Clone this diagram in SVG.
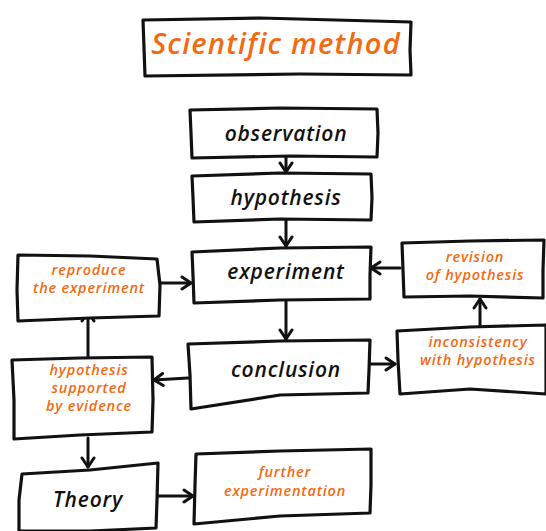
<svg xmlns="http://www.w3.org/2000/svg" width="546" height="531" viewBox="0 0 546 531">
<defs>
<style>
.box{fill:#fff;stroke:#111;stroke-width:3.2;stroke-linejoin:round;stroke-linecap:round}
.ln{fill:none;stroke:#111;stroke-width:3;stroke-linecap:round}
.bk{font-family:"Open Sans","Lato",sans-serif;font-style:italic;font-weight:600;fill:#111;text-anchor:middle;font-variant-ligatures:none;font-size:21px;letter-spacing:0.8px}
.or{font-family:"Open Sans","Lato",sans-serif;font-style:italic;font-weight:600;fill:#f26a12;text-anchor:middle;font-variant-ligatures:none;font-size:14.5px;letter-spacing:0.8px}
</style>
<marker id="ah" markerUnits="userSpaceOnUse" markerWidth="16" markerHeight="16" viewBox="0 0 16 16" refX="12" refY="8" orient="auto">
<path d="M3,2 L12,8 L3,14" fill="none" stroke="#111" stroke-width="3" stroke-linecap="round" stroke-linejoin="round"/>
</marker>
</defs>
<rect width="546" height="531" fill="#fff"/>
<g id="title">
<path class="box" d="M143,20 L260,18 L411,22 L410,50 L411,75 L300,74 L145,76 L144,48 Z"/>
<text class="or" x="276" y="54" style="font-size:29px;letter-spacing:1.2px">Scientific method</text>
</g>
<g id="connectors">
<path class="ln" d="M286,157 L286,172" marker-end="url(#ah)"/>
<path class="ln" d="M286,220 L286,246" marker-end="url(#ah)"/>
<path class="ln" d="M286,301 L286,339" marker-end="url(#ah)"/>
<path class="ln" d="M160,283 L191,283" marker-end="url(#ah)"/>
<path class="ln" d="M400,268 L371,268" marker-end="url(#ah)"/>
<path class="ln" d="M370,364 L395,364" marker-end="url(#ah)"/>
<path class="ln" d="M480,325 L480,299" marker-end="url(#ah)"/>
<path class="ln" d="M188,378 L154,380" marker-end="url(#ah)"/>
<path class="ln" d="M88,357 L88,312" marker-end="url(#ah)"/>
<path class="ln" d="M88,438 L88,467" marker-end="url(#ah)"/>
<path class="ln" d="M158,496 L193,496" marker-end="url(#ah)"/>
</g>
<g id="observation">
<path class="box" d="M190,110 L280,108 L377,109 L378,133 L377,157 L290,156 L192,158 L191,133 Z"/>
<text class="bk" x="286" y="141">observation</text>
</g>
<g id="hypothesis">
<path class="box" d="M192,176 L280,173 L371,174 L372,198 L371,220 L280,219 L194,222 L193,198 Z"/>
<text class="bk" x="286" y="205">hypothesis</text>
</g>
<g id="experiment">
<path class="box" d="M192,252 L280,248 L371,247 L370,275 L370,299 L280,300 L194,303 L193,275 Z"/>
<text class="bk" x="286" y="279">experiment</text>
</g>
<g id="conclusion">
<path class="box" d="M188,344 L280,341 L370,340 L369,370 L368,393 L280,395 L191,409 L190,375 Z"/>
<text class="bk" x="286" y="377">conclusion</text>
</g>
<g id="reproduce">
<path class="box" d="M18,255 L90,256 L157,259 L160,285 L159,316 L90,318 L18,321 L17,290 Z"/>
<text class="or" x="89" y="275">reproduce</text>
<text class="or" x="89" y="293">the experiment</text>
</g>
<g id="revision">
<path class="box" d="M402,243 L470,241 L544,240 L543,270 L543,298 L470,296 L404,297 L403,270 Z"/>
<text class="or" x="475" y="262">revision</text>
<text class="or" x="475" y="280">of hypothesis</text>
</g>
<g id="inconsistency">
<path class="box" d="M397,331 L470,327 L546,325 L546,360 L546,394 L470,389 L400,394 L398,360 Z"/>
<text class="or" x="478" y="347">inconsistency</text>
<text class="or" x="478" y="365">with hypothesis</text>
</g>
<g id="supported">
<path class="box" d="M12,360 L80,358 L152,357 L153,400 L152,432 L80,435 L14,439 L14,400 Z"/>
<text class="or" x="89" y="375">hypothesis</text>
<text class="or" x="89" y="393">supported</text>
<text class="or" x="89" y="411">by evidence</text>
</g>
<g id="theory">
<path class="box" d="M22,474 L90,470 L158,463 L157,500 L156,528 L90,531 L19,531 L19,500 Z"/>
<text class="bk" x="88" y="507">Theory</text>
</g>
<g id="further">
<path class="box" d="M196,454 L280,451 L371,449 L371,485 L370,513 L280,516 L194,524 L195,485 Z"/>
<text class="or" x="285" y="477">further</text>
<text class="or" x="285" y="496">experimentation</text>
</g>
</svg>
